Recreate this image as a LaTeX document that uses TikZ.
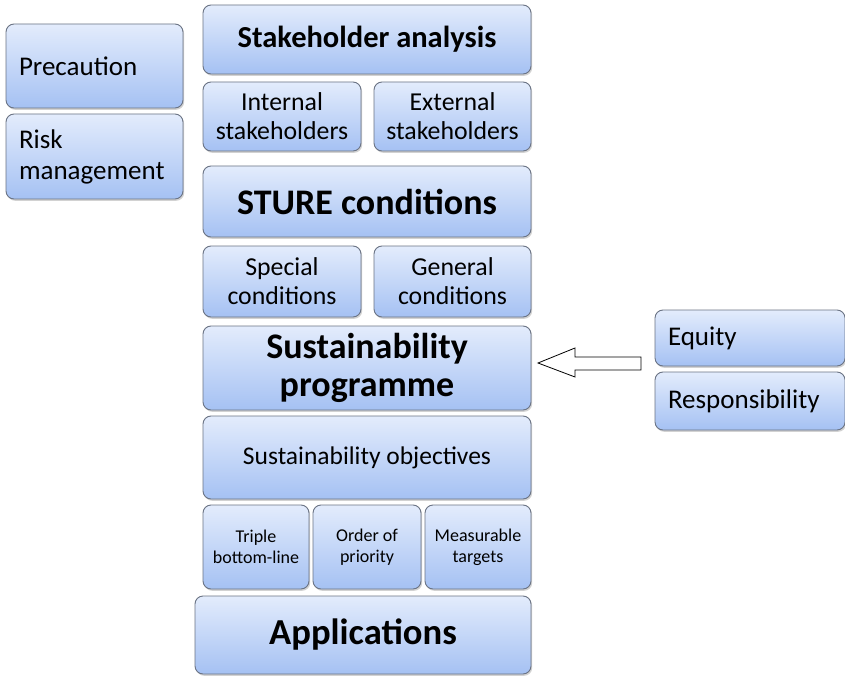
\documentclass[tikz,border=0pt]{standalone}
\usepackage{fontspec}
\setmainfont{Carlito}
\usetikzlibrary{shadows}
\definecolor{boxtop}{HTML}{E3ECFC}
\definecolor{boxbot}{HTML}{A5C1F3}
\definecolor{boxline}{HTML}{6A7384}
\newcommand{\fsz}[2]{\fontsize{#1pt}{#2pt}\selectfont}
\newcommand{\drawblock}{\node[block]}
\newcommand{\drawside}{\node[block,align=left,font=\fsz{27}{31}]}

\begin{document}
\begin{tikzpicture}[x=1pt,y=-1pt,
  block/.style={draw=boxline,line width=0.9pt,rounded corners=8pt,
    top color=boxtop,bottom color=boxbot,align=center,inner sep=0pt,
    drop shadow={shadow xshift=1.2pt,shadow yshift=-1.8pt,opacity=0.35}},
  small/.style={font=\fsz{25.8}{29}},
  tiny/.style={font=\fsz{18}{21}},
  head/.style={font=\fsz{#1}{#1}\bfseries}]
\useasboundingbox[fill=white] (0,0) rectangle (845,676);
%left column
\drawside[minimum width=177pt,minimum height=84pt,text width=151pt] (prec) at (94.5,66) {Precaution};
\drawside[minimum width=177pt,minimum height=85pt,text width=151pt] (risk) at (94.5,156.5) {Risk\\management};

%middle column
\drawblock[head=30.5,minimum width=328pt,minimum height=69pt] (stake) at (367,39.5) {Stakeholder analysis};
\drawblock[small,minimum width=158pt,minimum height=69pt] (intern) at (282,116.5) {Internal\\stakeholders};
\drawblock[small,minimum width=157pt,minimum height=69pt] (extern) at (452.5,116.5) {External\\stakeholders};

\drawblock[head=36,minimum width=328pt,minimum height=71pt] (sture) at (367,201.5) {STURE conditions};
\drawblock[small,minimum width=158pt,minimum height=71pt] (special) at (282,281.5) {Special\\conditions};
\drawblock[small,minimum width=157pt,minimum height=71pt] (general) at (452.5,281.5) {General\\conditions};

\drawblock[font=\fsz{36}{38}\bfseries,minimum width=328pt,minimum height=84pt] (prog) at (367,368) {Sustainability\\programme};
\drawblock[font=\fsz{25.5}{29},minimum width=328pt,minimum height=83pt] (obj) at (367,457.5) {Sustainability objectives};

\drawblock[tiny,minimum width=106pt,minimum height=84pt] (triple) at (256,547) {Triple\\bottom-line};
\drawblock[tiny,minimum width=108pt,minimum height=84pt] (order) at (367,547) {Order of\\priority};
\drawblock[tiny,minimum width=106pt,minimum height=84pt] (measure) at (478,547) {Measurable\\targets};

\drawblock[head=36.6,minimum width=336pt,minimum height=78pt] (appl) at (363,635) {Applications};

%right column
\drawside[minimum width=190pt,minimum height=56pt,text width=164pt] (equity) at (750,338) {Equity};
\drawside[minimum width=190pt,minimum height=58pt,text width=164pt] (resp) at (750,401) {Responsibility};

%block arrow
\draw[black,line width=0.8pt,fill=white] (641,357) -- (575,357) -- (575,348) -- (538,363) -- (575,377) -- (575,370) -- (641,370) -- cycle;

\end{tikzpicture}
\end{document}
